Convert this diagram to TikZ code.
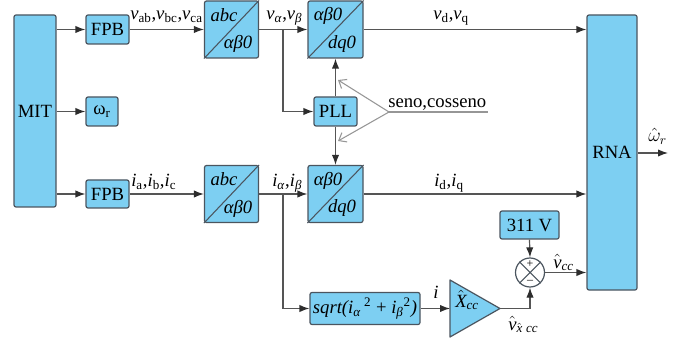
\documentclass[tikz,border=0pt]{standalone}
\usepackage{fontspec}
\setmainfont{Liberation Serif}
\usetikzlibrary{arrows.meta}
\definecolor{boxfill}{RGB}{125,207,242}
\definecolor{boxedge}{RGB}{75,85,95}
\definecolor{lncol}{RGB}{85,85,85}
\definecolor{tipcol}{RGB}{45,45,45}
\definecolor{graycol}{RGB}{150,150,150}
\begin{document}
\begin{tikzpicture}[x=0.75pt,y=-0.75pt,
  font=\fontsize{14}{16}\selectfont,
  blk/.style 2 args={draw=boxedge, fill=boxfill, line width=0.9pt, rounded corners=1.5pt, inner sep=0pt, minimum width=#1*0.75pt, minimum height=#2*0.75pt},
  arr/.style={draw=lncol, line width=0.9pt, -{Latex[length=7.5pt,width=5.5pt,color=tipcol]}},
  lbl/.style={inner sep=0pt, anchor=base west},
  txt/.style={inner sep=0pt},
  diag/.style={draw=boxedge, line width=0.8pt},
  gar/.style={draw=graycol, line width=0.8pt, -{Straight Barb[length=5pt,width=8pt]}}
]
\useasboundingbox (0,0) rectangle (681,338);

% blocks
\node[blk={42}{192}] (mit) at (35,111) {MIT};
\node[blk={43}{29}] (fpb1) at (107.5,29.5) {FPB};
\node[blk={32}{29}] (om) at (102,111.5) {ω\textsubscript{r}};
\node[blk={43}{28}] (fpb2) at (107.5,194) {FPB};
\node[blk={54}{57}] (abc1) at (231.5,29.5) {};
\node[blk={55}{57}] (dq1) at (335.5,29.5) {};
\node[blk={43}{29}] (pll) at (335.5,111.5) {PLL};
\node[blk={54}{57}] (abc2) at (231.5,194) {};
\node[blk={55}{57}] (dq2) at (335.5,194) {};
\node[blk={50}{275}] (rna) at (612,152.5) {RNA};
\node[blk={59}{28}] (v311) at (529.5,225) {311 V};
\node[blk={110}{32}] (sq) at (365,308.5) {\textit{sqrt(i}\textsubscript{\textit{α}}\,\textsuperscript{2} + \textit{i}\textsubscript{\textit{β}}\textsuperscript{2}\textit{)}};
\node[draw=boxedge, fill=white, circle, line width=0.9pt, minimum size=29*0.75pt, inner sep=0pt] (sum) at (530,272.5) {};
\draw[diag] (sum.north west) -- (sum.south east) (sum.north east) -- (sum.south west);
\node[txt, font=\fontsize{9}{9}\selectfont] (plus) at (530,264.5) {+};
\node[txt, font=\fontsize{9}{9}\selectfont] (minus) at (530,281.5) {–};

% transformation box contents
\draw[diag] (abc1.south west) -- (abc1.north east);
\draw[diag] (dq1.south west) -- (dq1.north east);
\draw[diag] (abc2.south west) -- (abc2.north east);
\draw[diag] (dq2.south west) -- (dq2.north east);
\node[txt] (t1) at (224,15) {\textit{abc}};
\node[txt] (t2) at (238,44) {\textit{αβ0}};
\node[txt] (t3) at (328,16) {\textit{αβ0}};
\node[txt] (t4) at (342,44) {\textit{dq0}};
\node[txt] (t5) at (224,179.5) {\textit{abc}};
\node[txt] (t6) at (238,208.5) {\textit{αβ0}};
\node[txt] (t7) at (328,180.5) {\textit{αβ0}};
\node[txt] (t8) at (342,208.5) {\textit{dq0}};

% triangle gain
\coordinate (tl) at (450,280);
\coordinate (bl) at (450,337);
\coordinate (tip) at (500,308.5);
\coordinate (tin) at (450,308.5);
\draw[draw=boxedge, fill=boxfill, line width=0.9pt, line join=round] (tl) -- (tip) -- (bl) -- cycle;
\node[lbl] (xcc) at (455,307) {$\hat{\mathit{X}}_{\mathit{cc}}$};

% connectors
\draw[arr] (mit.east |- fpb1) -- (fpb1.west);
\draw[arr] (mit.east |- om) -- (om.west);
\draw[arr] (mit.east |- fpb2) -- (fpb2.west);
\draw[arr] (fpb1.east) -- (abc1.west);
\draw[arr] (abc1.east) -- (dq1.west);
\draw[arr] (dq1.east) -- (dq1.east -| rna.west);
\coordinate (br1) at (283,29.5);
\draw[arr] (br1) |- (pll.west);
\draw[arr] (pll.north) -- (dq1.south);
\draw[arr] (pll.south) -- (dq2.north);
\draw[arr] (fpb2.east) -- (abc2.west);
\draw[arr] (abc2.east) -- (dq2.west);
\draw[arr] (dq2.east) -- (dq2.east -| rna.west);
\coordinate (br2) at (283,194);
\draw[arr] (br2) |- (sq.west);
\draw[arr] (sq.east) -- (tin);
\draw[arr] (tip) -| (sum.south);
\draw[arr] (v311.south) -- (sum.north);
\draw[arr] (sum.east) -- (sum.east -| rna.west);
\coordinate (wo) at (668,153);
\draw[arr] (rna.east |- wo) -- (wo);

% seno, cosseno
\coordinate (apx) at (389,112);
\coordinate (ulend) at (488,112);
\coordinate (g1) at (338,80);
\coordinate (g2) at (338,141);
\draw[graycol, line width=0.8pt] (apx) -- (ulend);
\draw[gar] (apx) -- (g1);
\draw[gar] (apx) -- (g2);
\node[lbl] (sc) at (388,108) {seno,cosseno};

% labels
\node[lbl] (lv1) at (130,20) {\textit{v}\textsubscript{ab},\textit{v}\textsubscript{bc},\textit{v}\textsubscript{ca}};
\node[lbl] (lv2) at (266,20) {\textit{v}\textsubscript{\textit{α}},\textit{v}\textsubscript{\textit{β}}};
\node[lbl] (lv3) at (433,20) {\textit{v}\textsubscript{d},\textit{v}\textsubscript{q}};
\node[lbl] (li1) at (131,187) {\textit{i}\textsubscript{a},\textit{i}\textsubscript{b},\textit{i}\textsubscript{c}};
\node[lbl] (li2) at (272,187) {\textit{i}\textsubscript{\textit{α}},\textit{i}\textsubscript{\textit{β}}};
\node[lbl] (li3) at (434,187) {\textit{i}\textsubscript{d},\textit{i}\textsubscript{q}};
\node[lbl] (li4) at (433,298) {\textit{i}};
\node[lbl] (lvcc) at (553,268) {$\hat{\mathit{v}}_{\mathit{cc}}$};
\node[lbl] (lvx) at (508,330) {$\hat{\mathit{v}}_{\hat{\mathit{x}}\;\mathit{cc}}$};
\node[lbl] (lw) at (648,142) {$\hat{\omega}_{r}$};
\end{tikzpicture}
\end{document}
